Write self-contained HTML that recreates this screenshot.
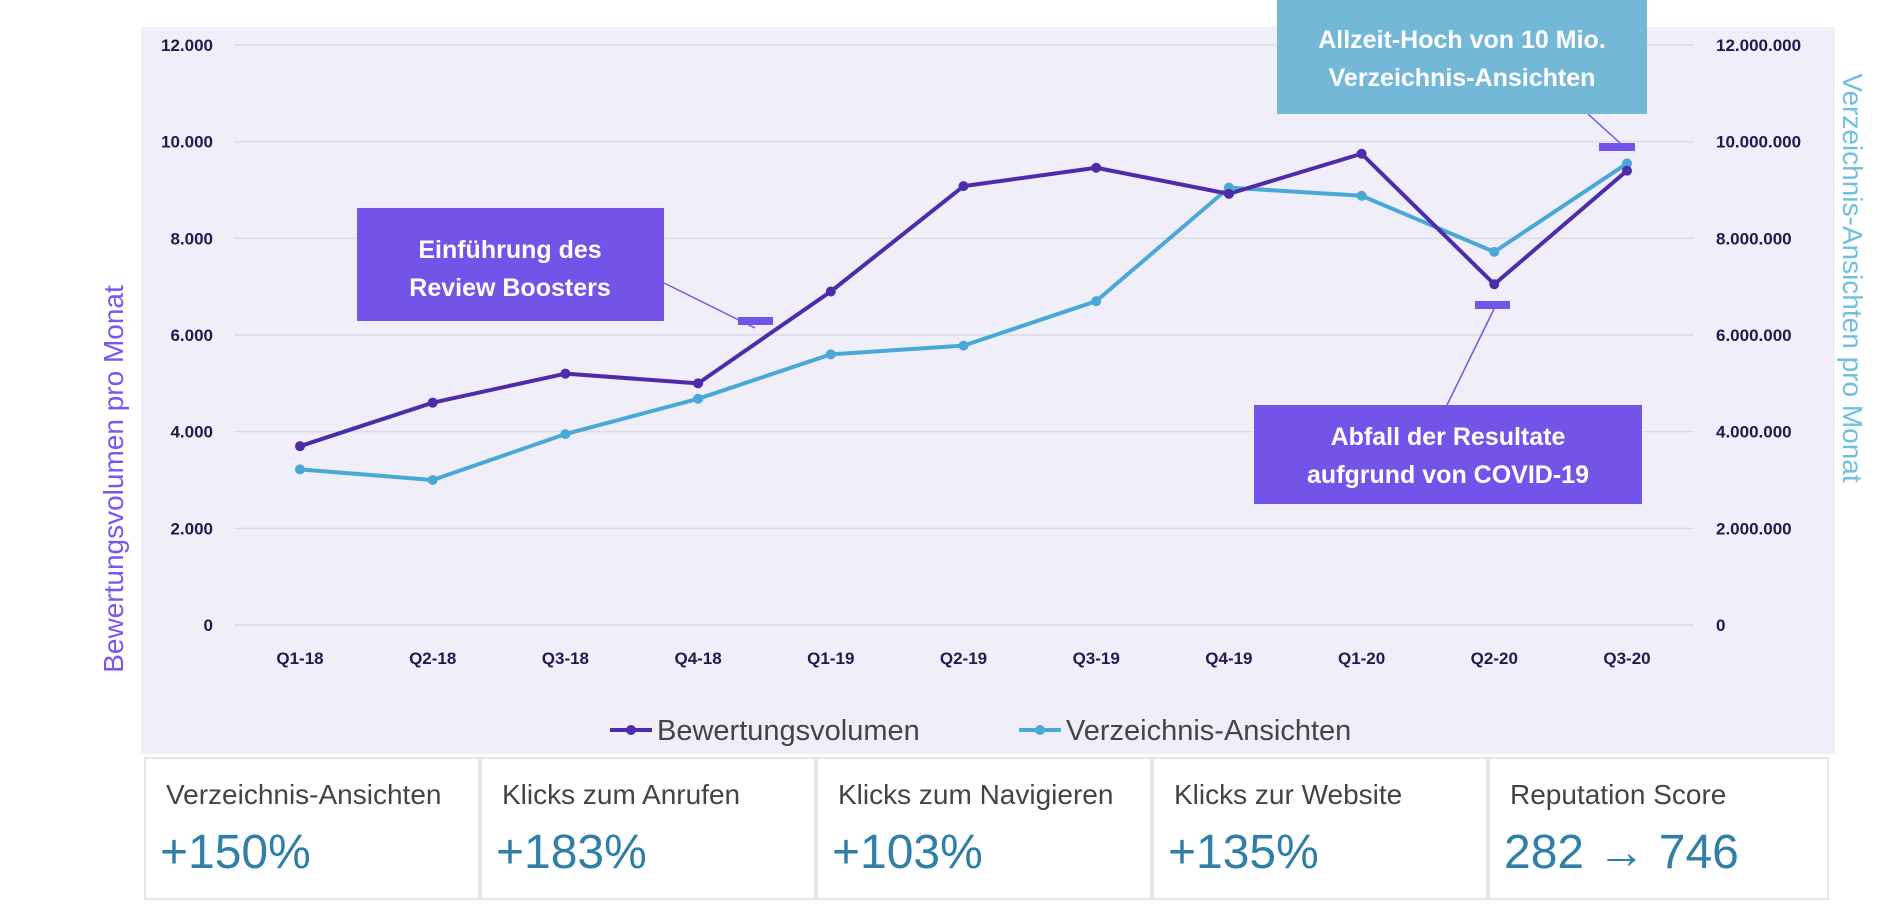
<!DOCTYPE html>
<html><head><meta charset="utf-8"><style>
body{margin:0;width:1884px;height:908px;background:#fff;overflow:hidden;font-family:"Liberation Sans",sans-serif}
.cell{position:absolute;top:757px;height:143px;width:336px;border:2px solid #e6e6e6;box-sizing:border-box}
.cell .l{position:absolute;left:20px;top:20px;font-size:28px;color:#444;white-space:nowrap}
.cell .v{position:absolute;left:14px;top:66px;font-size:48px;color:#2f7fa8;white-space:nowrap}
</style></head><body>
<svg width="1884" height="908" style="position:absolute;left:0;top:0">
<rect x="141" y="27" width="1694" height="727" fill="#f0eef8"/>
<g id="grid"></g><g id="ticks"></g><g id="series"></g>
<text x="114" y="479" dy="9" transform="rotate(-90 114 479)" text-anchor="middle" font-size="28" fill="#7a55ee">Bewertungsvolumen pro Monat</text>
<text x="1852" y="278" dy="9" transform="rotate(90 1852 278)" text-anchor="middle" font-size="28" fill="#6fbfe0">Verzeichnis-Ansichten pro Monat</text>
<g>
<line x1="610" y1="730" x2="652" y2="730" stroke="#4e2baa" stroke-width="4"/><circle cx="631" cy="730" r="5" fill="#4e2baa"/>
<text x="657" y="740" font-size="29" fill="#444">Bewertungsvolumen</text>
<line x1="1019" y1="730" x2="1061" y2="730" stroke="#4aa8d8" stroke-width="4"/><circle cx="1040" cy="730" r="5" fill="#4aa8d8"/>
<text x="1066" y="740" font-size="29" fill="#444">Verzeichnis-Ansichten</text>
</g>
<g>
<line x1="664" y1="283" x2="755" y2="328" stroke="#7454e8" stroke-width="1.5"/>
<line x1="1447" y1="405" x2="1494" y2="309" stroke="#7454e8" stroke-width="1.5"/>
<line x1="1588" y1="114" x2="1620" y2="143" stroke="#7454e8" stroke-width="1.5"/>
<rect x="738" y="317" width="35" height="8" fill="#7454e8"/>
<rect x="1475" y="301" width="35" height="8" fill="#7454e8"/>
<rect x="1599" y="143" width="36" height="8" fill="#7454e8"/>
<rect x="357" y="208" width="307" height="113" fill="#7454e8"/>
<text x="510" y="258" text-anchor="middle" font-size="25" font-weight="bold" fill="#fff">Einführung des</text>
<text x="510" y="296" text-anchor="middle" font-size="25" font-weight="bold" fill="#fff">Review Boosters</text>
<rect x="1277" y="0" width="370" height="114" fill="#74b8d8"/>
<text x="1462" y="48" text-anchor="middle" font-size="25" font-weight="bold" fill="#fff">Allzeit-Hoch von 10 Mio.</text>
<text x="1462" y="86" text-anchor="middle" font-size="25" font-weight="bold" fill="#fff">Verzeichnis-Ansichten</text>
<rect x="1254" y="405" width="388" height="99" fill="#7454e8"/>
<text x="1448" y="445" text-anchor="middle" font-size="25" font-weight="bold" fill="#fff">Abfall der Resultate</text>
<text x="1448" y="483" text-anchor="middle" font-size="25" font-weight="bold" fill="#fff">aufgrund von COVID-19</text>
</g>
</svg>
<div class="cell" style="left:144px"><div class="l">Verzeichnis-Ansichten</div><div class="v">+150%</div></div>
<div class="cell" style="left:480px"><div class="l">Klicks zum Anrufen</div><div class="v">+183%</div></div>
<div class="cell" style="left:816px"><div class="l">Klicks zum Navigieren</div><div class="v">+103%</div></div>
<div class="cell" style="left:1152px"><div class="l">Klicks zur Website</div><div class="v">+135%</div></div>
<div class="cell" style="left:1488px;width:341px"><div class="l">Reputation Score</div><div class="v">282 → 746</div></div>
<script>
const categories=["Q1-18","Q2-18","Q3-18","Q4-18","Q1-19","Q2-19","Q3-19","Q4-19","Q1-20","Q2-20","Q3-20"];
const bewertung=[3700,4600,5200,5000,6900,9080,9460,8920,9750,7050,9400];
const ansichten=[3220000,3000000,3950000,4680000,5600000,5780000,6700000,9050000,8880000,7720000,9550000];
const leftTicks=["0","2.000","4.000","6.000","8.000","10.000","12.000"];
const rightTicks=["0","2.000.000","4.000.000","6.000.000","8.000.000","10.000.000","12.000.000"];
const NS="http://www.w3.org/2000/svg";
const x=i=>300+i*132.7;
const yL=v=>625-v/12000*580;
const yR=v=>625-v/12000000*580;
function mk(t,a,p){const e=document.createElementNS(NS,t);for(const k in a)e.setAttribute(k,a[k]);p.appendChild(e);return e;}
const grid=document.getElementById('grid'),ticks=document.getElementById('ticks'),ser=document.getElementById('series');
leftTicks.forEach((t,i)=>{const y=625-i*580/6;
const g=mk('line',{x1:234,x2:1694,y1:y,y2:y,stroke:'#dcdce6','stroke-width':1.5},grid);


const a=mk('text',{x:213,y:y+6,'text-anchor':'end','font-size':17,'font-weight':'bold',fill:'#1f1a4f'},ticks);a.textContent=t;


const b=mk('text',{x:1716,y:y+6,'font-size':17,'font-weight':'bold',fill:'#1f1a4f'},ticks);b.textContent=rightTicks[i];

});
categories.forEach((c,i)=>{const t=mk('text',{x:x(i),y:664,'text-anchor':'middle','font-size':17,'font-weight':'bold',fill:'#1f1a4f'},ticks);t.textContent=c;

});
function line(data,f,col,name){
const p=mk('polyline',{points:data.map((v,i)=>x(i)+','+f(v)).join(' '),fill:'none',stroke:col,'stroke-width':4,'stroke-linejoin':'round'},ser);


data.forEach((v,i)=>{const c=mk('circle',{cx:x(i),cy:f(v),r:5,fill:col},ser);

});}
line(ansichten,yR,'#4aa8d8','verzeichnis-ansichten');
line(bewertung,yL,'#4e2baa','bewertungsvolumen');
</script>
</body></html>
